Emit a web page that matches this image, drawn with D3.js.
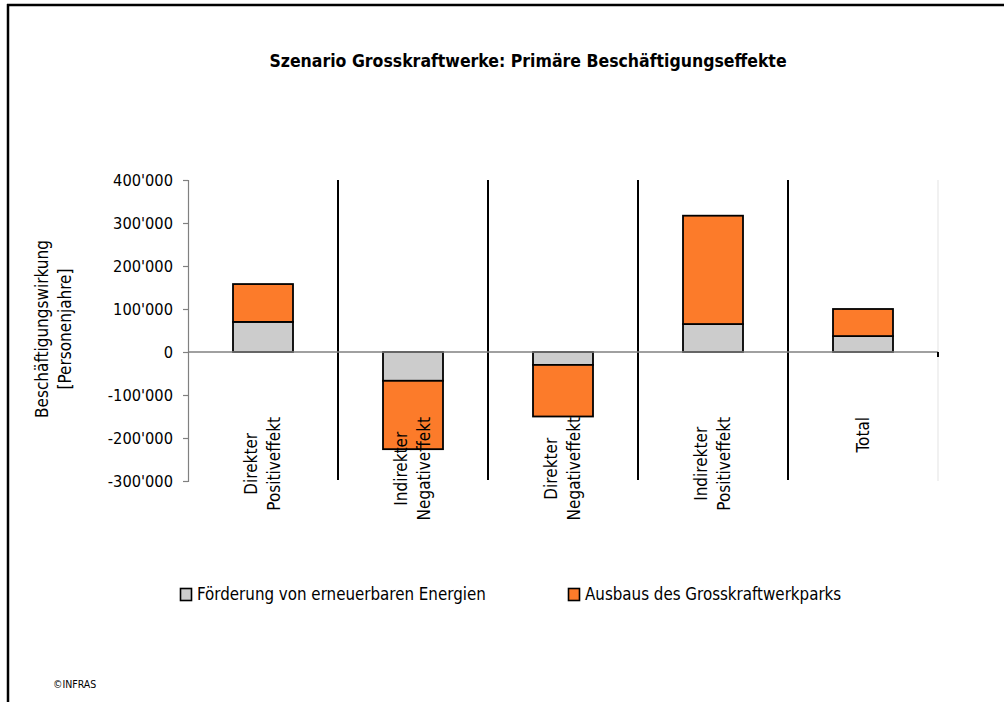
<!DOCTYPE html>
<html>
<head>
<meta charset="utf-8">
<script src="https://cdn.jsdelivr.net/npm/d3@7/dist/d3.min.js"></script>
<style>
  html, body { margin: 0; padding: 0; background: #fff; }
  svg { display: block; }
  text { font-family: "DejaVu Sans Condensed", "DejaVu Sans", sans-serif; fill: #000; }
</style>
</head>
<body>
<svg id="chart" width="1004" height="702"></svg>
<script>
// ---- data ----
const categories = ["Direkter\nPositiveffekt", "Indirekter\nNegativeffekt", "Direkter\nNegativeffekt", "Indirekter\nPositiveffekt", "Total"];
const seriesNames = ["Förderung von erneuerbaren Energien", "Ausbaus des Grosskraftwerkparks"];
const foerderung = [70000, -67000, -30000, 65000, 37000];
const ausbau = [88000, -159000, -120000, 252000, 63000];
const yTicks = [-300000, -200000, -100000, 0, 100000, 200000, 300000, 400000];
const titleText = "Szenario Grosskraftwerke: Primäre Beschäftigungseffekte";
const yTitleLines = ["Beschäftigungswirkung", "[Personenjahre]"];
const copyrightText = "©INFRAS";

// ---- layout ----
const colors = ["#cccccc", "#fc7b2a"];
const plot = { left: 188, right: 938, top: 180, bottom: 481 };
const svg = d3.select("#chart");

const locale = d3.formatLocale({ decimal: ".", thousands: "'", grouping: [3], currency: ["", ""], minus: "-" });
const fmt = locale.format(",d");

const x = d3.scaleBand().domain(categories).range([plot.left, plot.right]).paddingInner(0).paddingOuter(0);
const y = d3.scaleLinear().domain([-300000, 400000]).range([plot.bottom, plot.top]);
const barW = x.bandwidth() * 0.4;

// outer frame (top + left)
svg.append("line").attr("x1", 7).attr("x2", 1004).attr("y1", 5).attr("y2", 5)
  .attr("stroke", "#000").attr("stroke-width", 2.5);
svg.append("line").attr("x1", 8).attr("x2", 8).attr("y1", 4).attr("y2", 702)
  .attr("stroke", "#000").attr("stroke-width", 2.5);

// title
svg.append("text").attr("x", 528).attr("y", 67).attr("text-anchor", "middle")
  .attr("font-weight", "bold").attr("font-size", 17.5).text(titleText);

// faint right plot edge
svg.append("line").attr("x1", plot.right).attr("x2", plot.right).attr("y1", plot.top).attr("y2", plot.bottom)
  .attr("stroke", "#ececec").attr("stroke-width", 1.5);

// category separators
const bounds = categories.slice(1).map(c => x(c));
svg.selectAll("line.sep").data(bounds).enter().append("line").attr("class", "sep")
  .attr("x1", d => d).attr("x2", d => d).attr("y1", plot.top).attr("y2", plot.bottom - 1)
  .attr("stroke", "#000").attr("stroke-width", 2);

// bars
const stacks = categories.map((c, i) => [
  { cat: c, s: 0, y0: 0, y1: foerderung[i] },
  { cat: c, s: 1, y0: foerderung[i], y1: foerderung[i] + ausbau[i] }
]).flat();
svg.selectAll("rect.bar").data(stacks).enter().append("rect").attr("class", "bar")
  .attr("x", d => x(d.cat) + (x.bandwidth() - barW) / 2)
  .attr("width", barW)
  .attr("y", d => Math.min(y(d.y0), y(d.y1)))
  .attr("height", d => Math.abs(y(d.y0) - y(d.y1)))
  .attr("fill", d => colors[d.s])
  .attr("stroke", "#000").attr("stroke-width", 1.8);

// y axis
const yAxis = svg.append("g").attr("transform", `translate(${plot.left},0)`)
  .call(d3.axisLeft(y).tickValues(yTicks).tickFormat(fmt).tickSize(5).tickPadding(10));
yAxis.select(".domain").attr("stroke", "#808080").attr("stroke-width", 1.2);
yAxis.selectAll(".tick line").attr("stroke", "#808080").attr("stroke-width", 1.2);
yAxis.selectAll(".tick text").attr("font-size", 16.3).attr("font-family", "DejaVu Sans Condensed, DejaVu Sans, sans-serif").attr("fill", "#000");

// zero line (x axis)
svg.append("line").attr("x1", plot.left).attr("x2", plot.right).attr("y1", y(0)).attr("y2", y(0))
  .attr("stroke", "#808080").attr("stroke-width", 1.5);
svg.append("line").attr("x1", plot.right).attr("x2", plot.right).attr("y1", y(0)).attr("y2", y(0) + 5)
  .attr("stroke", "#000").attr("stroke-width", 2);

// category labels (rotated, centered lines, block top at y=417)
const labelTop = 417, lineH = 23.3;
categories.forEach(c => {
  const lines = c.split("\n");
  const cx = x(c) + x.bandwidth() / 2;
  const g = svg.append("g");
  const texts = lines.map((ln, i) => g.append("text").attr("font-size", 17)
    .attr("text-anchor", "middle").attr("x", 0)
    .attr("y", 5.8 + (i - (lines.length - 1) / 2) * lineH).text(ln));
  const maxW = d3.max(texts, t => t.node().getComputedTextLength());
  g.attr("transform", `translate(${cx},${labelTop + maxW / 2}) rotate(-90)`);
});

// y title
const yt = svg.append("g").attr("transform", "translate(59,329) rotate(-90)");
yTitleLines.forEach((ln, i) => {
  yt.append("text").attr("text-anchor", "middle").attr("font-size", 17)
    .attr("y", -11 + i * 23).text(ln);
});

// legend
const legendX = [180, 568];
seriesNames.forEach((n, i) => {
  svg.append("rect").attr("x", legendX[i] + 0.5).attr("y", 588.5).attr("width", 11).attr("height", 12)
    .attr("fill", colors[i]).attr("stroke", "#000").attr("stroke-width", 1.6);
  svg.append("text").attr("x", legendX[i] + 17).attr("y", 600).attr("font-size", 16.8).text(n);
});

// copyright
svg.append("text").attr("x", 53).attr("y", 688).attr("font-size", 10.5).text(copyrightText);
</script>
</body>
</html>
